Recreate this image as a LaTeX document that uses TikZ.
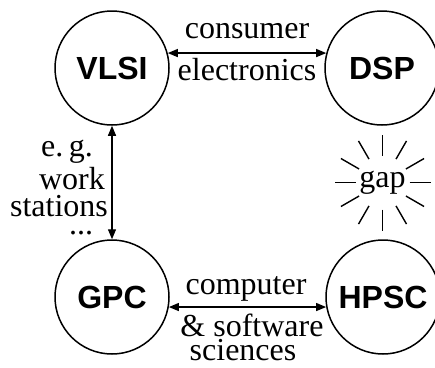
\documentclass[tikz,border=0pt]{standalone}
\usepackage{fontspec}
\setmainfont{Liberation Serif}
\newfontfamily\fieldfont{Liberation Sans}
\usetikzlibrary{arrows.meta,calc}
\tikzset{
  field/.style={draw,circle,line width=1.5pt,minimum size=114pt,inner sep=0pt,
    font=\fieldfont\bfseries\fontsize{32}{32}\selectfont},
  txt/.style={inner sep=0pt,font=\fontsize{32}{32}\selectfont},
  link/.style={{Triangle[length=10pt,width=8pt]}-{Triangle[length=10pt,width=8pt]},line width=1.3pt},
  ray/.style={line width=1.4pt},
}

\begin{document}
\begin{tikzpicture}[x=1pt,y=-1pt]
    \useasboundingbox (0,0) rectangle (435,367);
    % the four fields
    \node[field] (VLSI) at (112,68) {VLSI};
    \node[field] (DSP) at (382,68) {DSP};
    \node[field] (GPC) at (112,297) {GPC};
    \node[field] (HPSC) at (383,297) {HPSC};
    % top link
    \draw[link] (VLSI.15) -- (DSP.165);
    \node[txt] (cons) at (247,31) {consumer};
    \node[txt] (elec) at (247,70) {electronics};
    % left link
    \draw[link] (VLSI.south) -- (GPC.north);
    \node[txt] (eg) at (67,152) {e.\,g.};
    \node[txt] (work) at (72,179) {work};
    \node[txt] (stat) at (59,206) {stations};
    \node[txt,anchor=base] (dots) at (81,234) {...};
    % bottom link
    \draw[link] (GPC.-10) -- (HPSC.190);
    \node[txt] (comp) at (246,289) {computer};
    \node[txt] (soft) at (252,325) {\& software};
    \node[txt] (sci) at (243,350) {sciences};
    % the gap
    \node[txt] (gap) at ($(DSP)!0.5!(HPSC)$) {gap};
    \foreach \a in {0,30,...,330}
        \draw[ray] ($(gap.center)+(\a:27)$) -- ($(gap.center)+(\a:48)$);
\end{tikzpicture}
\end{document}
